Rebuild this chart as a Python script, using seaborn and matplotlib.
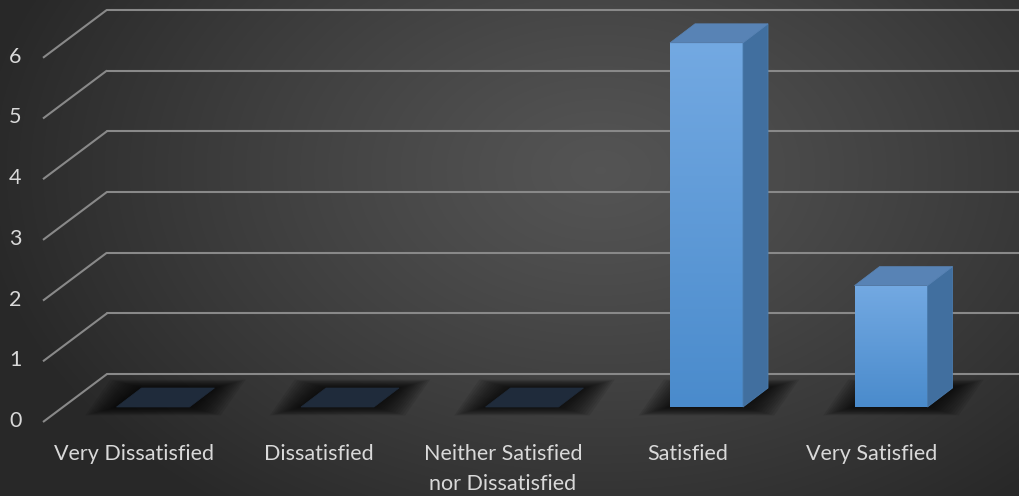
import numpy as np
import matplotlib
matplotlib.use("Agg")
import matplotlib.pyplot as plt
import seaborn as sns
from matplotlib.patches import Polygon

# ---------------- data ----------------
categories = ["Very Dissatisfied", "Dissatisfied",
              "Neither Satisfied\nnor Dissatisfied", "Satisfied", "Very Satisfied"]
values = [0, 0, 0, 6, 2]
yticks = [0, 1, 2, 3, 4, 5, 6]

# ---------------- geometry (pixels -> data) ----------------
W, H = 1019, 496
PX_X = 184.5          # pixels per category
PX_Y = 60.7           # pixels per unit
X0PX, Y0PX = 153, 407  # pixel position of category 0 / value 0 (bar front plane)

def dx(p): return p / PX_X
def dy(p): return p / PX_Y

xlim = (-X0PX / PX_X, (W - X0PX) / PX_X)
ylim = ((Y0PX - H) / PX_Y, Y0PX / PX_Y)

BAR_DX, BAR_DY = dx(25), dy(19)       # bar depth
WALL_DX, WALL_DY = dx(46), dy(33)     # back wall offset
FLOOR_DX, FLOOR_DY = dx(-18), dy(-15)  # front edge offset

sns.set_theme(style="white")
plt.rcParams['font.family'] = ['Lato', 'DejaVu Sans']

fig = plt.figure(figsize=(W / 100, H / 100), dpi=100)

# background radial gradient
bg = fig.add_axes([0, 0, 1, 1])
bg.set_axis_off()
yy, xx = np.mgrid[0:H, 0:W]
r = np.sqrt(((xx - 600) / 620.0) ** 2 + ((yy - 170) / 420.0) ** 2)
r = np.clip(r, 0, 1)
val = 0.33 - 0.17 * r ** 1.2
bg.imshow(np.dstack([val, val, val]), extent=[0, W, 0, H], aspect='auto', origin='upper')
bg.set_xlim(0, W); bg.set_ylim(0, H)

ax = fig.add_axes([0, 0, 1, 1])
ax.patch.set_alpha(0)

bar_w = 73 / PX_X
sns.barplot(x=categories, y=values, ax=ax, width=bar_w, color="#5b9bd5",
            saturation=1, linewidth=0, zorder=5)

grid_c = "#898989"
for v in yticks:
    ax.plot([xlim[0] + dx(43), xlim[0] + dx(43) + (WALL_DX - FLOOR_DX)],
            [v + FLOOR_DY, v + WALL_DY], color=grid_c, lw=1.5, zorder=1,
            solid_capstyle='butt')
    ax.plot([xlim[0] + dx(43) + (WALL_DX - FLOOR_DX), xlim[1] + 1],
            [v + WALL_DY, v + WALL_DY], color=grid_c, lw=1.5, zorder=1)
    ax.text(xlim[0] + dx(15.5), v + FLOOR_DY + dy(1), str(v), ha='center', va='center',
            color="#d9d9d9", fontsize=15.5)

grad = np.linspace(0, 1, 256).reshape(-1, 1)
front_top = np.array(matplotlib.colors.to_rgb("#73a9e2"))
front_bot = np.array(matplotlib.colors.to_rgb("#4a8bcc"))
front_img = front_top[None, None, :] * (1 - grad[:, :, None]) + front_bot[None, None, :] * grad[:, :, None]

bars = list(ax.patches)
for p in bars:
    x0 = p.get_x(); w = p.get_width(); h = p.get_height()
    # soft shadow
    for k in range(12, 0, -1):
        ex = dx(2.6 * k); ey = dy(0.7 * k)
        poly = [(x0 - ex, -ey), (x0 + w + ex, -ey),
                (x0 + w + BAR_DX + ex, BAR_DY + ey), (x0 + BAR_DX - ex, BAR_DY + ey)]
        ax.add_patch(Polygon(poly, closed=True, facecolor='black', alpha=0.085,
                             lw=0, zorder=2))
    if h > 0:
        im = ax.imshow(front_img, extent=[x0, x0 + w, 0, h], aspect='auto',
                       origin='upper', zorder=6)
        im.set_clip_path(p)
        side = [(x0 + w, 0), (x0 + w + BAR_DX, BAR_DY), (x0 + w + BAR_DX, h + BAR_DY), (x0 + w, h)]
        ax.add_patch(Polygon(side, closed=True, facecolor="#416f9f", edgecolor="#4a7bad",
                             lw=0.6, zorder=6))
        top_c = "#5883b5"
    else:
        top_c = "#1f2b3b"
    top = [(x0, h), (x0 + w, h), (x0 + w + BAR_DX, h + BAR_DY), (x0 + BAR_DX, h + BAR_DY)]
    ax.add_patch(Polygon(top, closed=True, facecolor=top_c, edgecolor=top_c, lw=0.5, zorder=7))

for i, lab in enumerate(categories):
    ax.text(i - dx(19), dy(Y0PX - 444), lab, ha='center', va='top',
            color="#d9d9d9", fontsize=15.5, linespacing=1.6)

ax.set_xlim(*xlim)
ax.set_ylim(*ylim)
ax.set_axis_off()

fig.savefig("out.png", dpi=100)
